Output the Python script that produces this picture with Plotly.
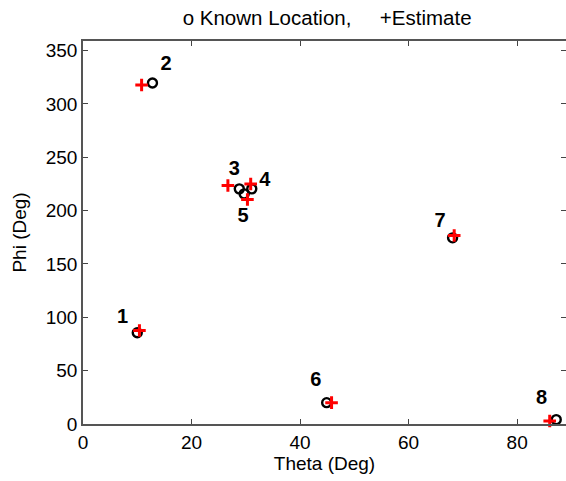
import plotly.graph_objects as go

# Data
point_ids = ["1", "2", "3", "4", "5", "6", "7", "8"]
known_theta = [10.0, 12.8, 28.8, 31.1, 29.7, 44.9, 68.1, 87.2]
known_phi = [85.6, 319.6, 220.4, 220.4, 215.7, 20.0, 174.5, 4.1]
est_theta = [10.4, 10.8, 26.7, 30.9, 30.3, 45.8, 68.4, 86.0]
est_phi = [87.7, 317.8, 223.5, 225.0, 210.4, 20.0, 176.7, 2.8]
# label offsets (data units) from the known location
label_dx = [-2.7, 2.5, -0.9, 2.4, -0.2, -2.0, -2.3, -2.7]
label_dy = [13.4, 17.0, 17.6, 7.6, -22.0, 20.0, 14.5, 19.7]

x_ticks = [0, 20, 40, 60, 80]
y_ticks = [0, 50, 100, 150, 200, 250, 300, 350]

FONT = "Liberation Sans, Arial, sans-serif"

fig = go.Figure()
fig.add_trace(go.Scatter(
    x=known_theta, y=known_phi, mode="markers",
    marker=dict(symbol="circle-open", size=9, color="black",
                line=dict(width=2.4, color="black")),
    cliponaxis=False, showlegend=False, hoverinfo="skip"))
fig.add_trace(go.Scatter(
    x=est_theta, y=est_phi, mode="markers",
    marker=dict(symbol="cross-thin-open", size=9, color="red",
                line=dict(width=3, color="red")),
    cliponaxis=False, showlegend=False, hoverinfo="skip"))
fig.add_trace(go.Scatter(
    x=[t + d for t, d in zip(known_theta, label_dx)],
    y=[p + d for p, d in zip(known_phi, label_dy)],
    mode="text", text=["<b>%s</b>" % s for s in point_ids],
    textfont=dict(family=FONT, size=20, color="black"),
    textposition="middle center",
    cliponaxis=False, showlegend=False, hoverinfo="skip"))

axis_common = dict(
    showgrid=False, zeroline=False, showline=True, linecolor="#555",
    linewidth=1.5, mirror="ticks", ticks="inside", ticklen=5,
    tickcolor="#444", tickwidth=1, automargin=False,
    tickfont=dict(family=FONT, size=19, color="black"))

fig.update_layout(
    width=566, height=481,
    margin=dict(l=83, r=0, t=41, b=57),
    paper_bgcolor="white", plot_bgcolor="white",
    title=dict(text="o Known Location,\u00a0\u00a0\u00a0\u00a0\u00a0+Estimate",
               x=0.578, xanchor="center", y=0.963, yanchor="middle",
               font=dict(family=FONT, size=20.5, color="black")),
    xaxis=dict(range=[0, 89], tickvals=x_ticks,
               title=dict(text="Theta (Deg)", standoff=4,
                          font=dict(family=FONT, size=19, color="black")),
               **axis_common),
    yaxis=dict(range=[0, 359], tickvals=y_ticks,
               title=dict(text="Phi (Deg)", standoff=14,
                          font=dict(family=FONT, size=19, color="black")),
               **axis_common),
)

fig.write_html("out.html",
               config={"displayModeBar": False},
               post_script="document.body.style.margin='0px';"
                           "document.body.style.overflow='hidden';")
